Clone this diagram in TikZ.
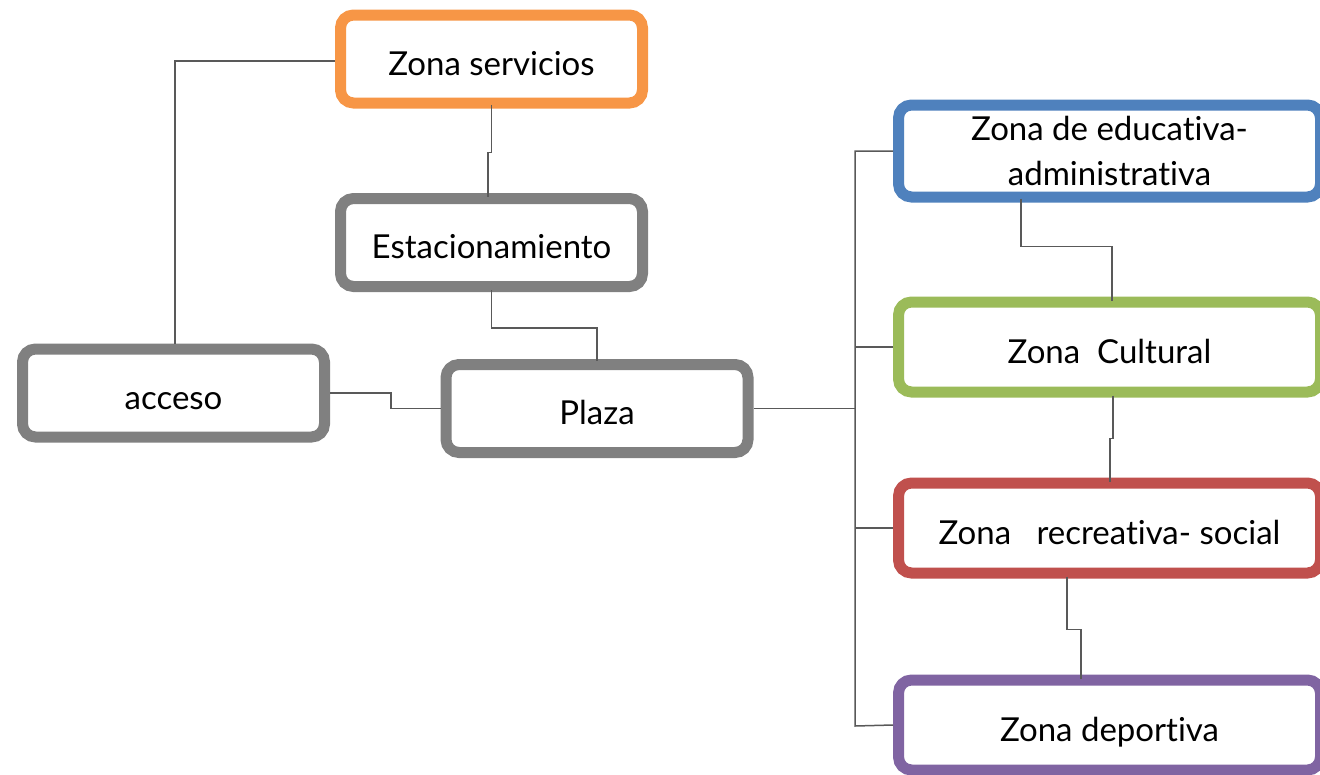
\documentclass[tikz,border=0pt]{standalone}
\usepackage{fontspec}
\setmainfont{Lato}[Ligatures={NoCommon,NoRequired}]
\begin{document}
\begin{tikzpicture}[x=1pt,y=-1pt,
  zbox/.style={draw, line width=11pt, rounded corners=13pt, fill=white, inner sep=0pt,
    minimum width=#1, minimum height=88pt, align=center, text height=32pt, text depth=0pt,
    font=\fontsize{33}{45}\selectfont},
  zbox/.default=302pt,
  conn/.style={draw=black!65, line width=1.5pt}]
\useasboundingbox (0,0) rectangle (1320,774);
\begin{scope}
\clip (0,0) rectangle (1320,774);
\definecolor{cOrange}{HTML}{F79646}
\definecolor{cGray}{HTML}{808080}
\definecolor{cBlue}{HTML}{4F81BD}
\definecolor{cGreen}{HTML}{9BBB59}
\definecolor{cRed}{HTML}{C0504D}
\definecolor{cPurple}{HTML}{8064A2}
\node[zbox, draw=cOrange] (serv) at (491.5,59) {Zona servicios};
\node[zbox, draw=cGray] (est) at (491.5,242.5) {Estacionamiento};
\node[zbox, draw=cGray] (acc) at (173.5,393) {acceso};
\node[zbox, draw=cGray] (plaza) at (597,408.5) {Plaza};
\node[zbox=422pt, draw=cBlue, minimum height=92pt, text height=, text depth=] (edu) at (1109.5,151) {Zona de educativa-\\administrativa};
\node[zbox=422pt, draw=cGreen, minimum height=90pt] (cult) at (1109.5,347) {Zona\ \ Cultural};
\node[zbox=422pt, draw=cRed, minimum height=90pt] (rec) at (1109.5,528) {Zona\ \ \ recreativa- social};
\node[zbox=422pt, draw=cPurple, minimum height=90pt] (dep) at (1109.5,725) {Zona deportiva};
\coordinate (tt) at (855,151);
\coordinate (tb) at (855,726);
\draw[conn] ([yshift=-2pt]serv.west) -| ([xshift=1.5pt]acc.north);
\draw[conn] ([yshift=4pt]serv.south) -- ++(0,48) -| ([xshift=-3.5pt,yshift=-4pt]est.north);
\draw[conn] ([yshift=2pt]est.south) -- ++(0,38) -| ([yshift=-2pt]plaza.north);
\draw[conn] (acc.east) -- ++(61,0) |- (plaza.west);
\draw[conn] (plaza.east) -- (plaza.east -| tt);
\draw[conn] (edu.west) -- (tt) -- (tb) -- (dep.west);
\draw[conn] (cult.west) -- (cult.west -| tt);
\draw[conn] (rec.west) -- (rec.west -| tt);
\draw[conn] ([xshift=-88.5pt,yshift=4pt]edu.south) -- ++(0,48) -| ([xshift=2.5pt,yshift=-4pt]cult.north);
\draw[conn] ([xshift=3.5pt,yshift=2pt]cult.south) -- ++(0,43) -| ([xshift=0.5pt,yshift=-4pt]rec.north);
\draw[conn] ([xshift=-42.5pt,yshift=2pt]rec.south) -- ++(0,53) -| ([xshift=-28.5pt,yshift=-4pt]dep.north);
\end{scope}
\end{tikzpicture}
\end{document}
